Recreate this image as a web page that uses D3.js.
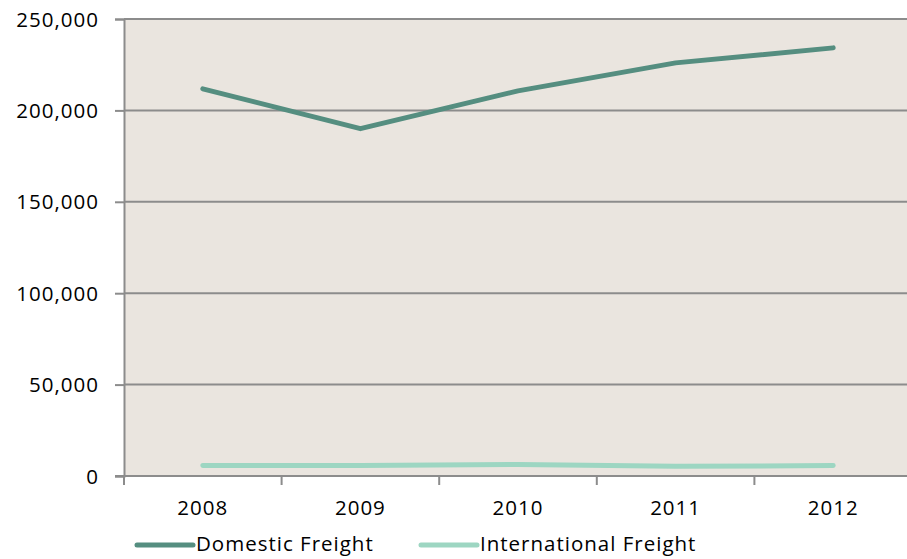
<!DOCTYPE html>
<html>
<head>
<meta charset="utf-8">
<script src="https://cdn.jsdelivr.net/npm/d3@7/dist/d3.min.js"></script>
<style>
  html, body { margin: 0; padding: 0; background: #ffffff; }
  svg { display: block; }
  text { font-family: "Open Sans", sans-serif; fill: #000; letter-spacing: 1px; }
</style>
</head>
<body>
<svg id="chart" width="907" height="559"></svg>
<script>
// Freight volumes by year
const years = ["2008", "2009", "2010", "2011", "2012"];
const domesticFreight = [211800, 190000, 210700, 226000, 234200];
const internationalFreight = [5700, 5800, 6300, 5300, 5700];
const yTicks = [0, 50000, 100000, 150000, 200000, 250000];
const seriesNames = ["Domestic Freight", "International Freight"];
const seriesColors = ["#558e80", "#9dd6c2"];

const FONT = "'Open Sans', sans-serif";
const FS = 20.5;

const svg = d3.select("#chart");
const margin = { left: 124, top: 19, right: 912, bottom: 476 };

const x = d3.scaleBand().domain(years).range([margin.left, margin.right]);
const y = d3.scaleLinear().domain([0, 250000]).range([margin.bottom, margin.top]);

// plot background
svg.append("rect")
  .attr("x", margin.left).attr("y", margin.top)
  .attr("width", margin.right - margin.left)
  .attr("height", margin.bottom - margin.top)
  .attr("fill", "#eae5df");

// horizontal gridlines
svg.append("g").selectAll("line").data(yTicks.filter(d => d > 0)).join("line")
  .attr("x1", margin.left).attr("x2", margin.right)
  .attr("y1", d => y(d)).attr("y2", d => y(d))
  .attr("stroke", "#8c8c8c").attr("stroke-width", 2);

// y axis
const yAxis = svg.append("g")
  .attr("transform", `translate(${margin.left},0)`)
  .call(d3.axisLeft(y).tickValues(yTicks).tickFormat(d3.format(",")).tickSize(9).tickPadding(16));
yAxis.select(".domain").attr("stroke", "#8c8c8c").attr("stroke-width", 2);
yAxis.selectAll(".tick line").attr("stroke", "#8c8c8c").attr("stroke-width", 2);
yAxis.selectAll("text").attr("font-size", FS).attr("dy", "0.35em")
  .style("font-family", FONT).attr("fill", "#000");

// x axis with ticks at category boundaries
const xAxisG = svg.append("g").attr("transform", `translate(0,${margin.bottom})`);
xAxisG.append("line")
  .attr("x1", margin.left - 9).attr("x2", margin.right)
  .attr("y1", 0).attr("y2", 0)
  .attr("stroke", "#8c8c8c").attr("stroke-width", 2);
xAxisG.selectAll("line.tick").data(years).join("line")
  .attr("class", "tick")
  .attr("x1", d => x(d)).attr("x2", d => x(d))
  .attr("y1", 0).attr("y2", 9)
  .attr("stroke", "#8c8c8c").attr("stroke-width", 2);
xAxisG.selectAll("text").data(years).join("text")
  .attr("x", d => x(d) + x.bandwidth() / 2)
  .attr("y", 39)
  .attr("text-anchor", "middle")
  .attr("font-size", FS)
  .text(d => d);

// series lines
const line = d3.line()
  .x((d, i) => x(years[i]) + x.bandwidth() / 2)
  .y(d => y(d));

[internationalFreight, domesticFreight].forEach((vals, k) => {
  const idx = k === 0 ? 1 : 0;
  svg.append("path")
    .datum(vals)
    .attr("d", line)
    .attr("fill", "none")
    .attr("stroke", seriesColors[idx])
    .attr("stroke-width", 5)
    .attr("stroke-linecap", "round")
    .attr("stroke-linejoin", "round");
});

// legend
const legendX = [137, 421];
const legend = svg.append("g");
seriesNames.forEach((name, i) => {
  legend.append("line")
    .attr("x1", legendX[i]).attr("x2", legendX[i] + 56)
    .attr("y1", 545).attr("y2", 545)
    .attr("stroke", seriesColors[i])
    .attr("stroke-width", 5)
    .attr("stroke-linecap", "round");
  legend.append("text")
    .attr("x", legendX[i] + 59)
    .attr("y", 544)
    .attr("dy", "0.35em")
    .attr("font-size", FS)
    .text(name);
});
</script>
</body>
</html>
